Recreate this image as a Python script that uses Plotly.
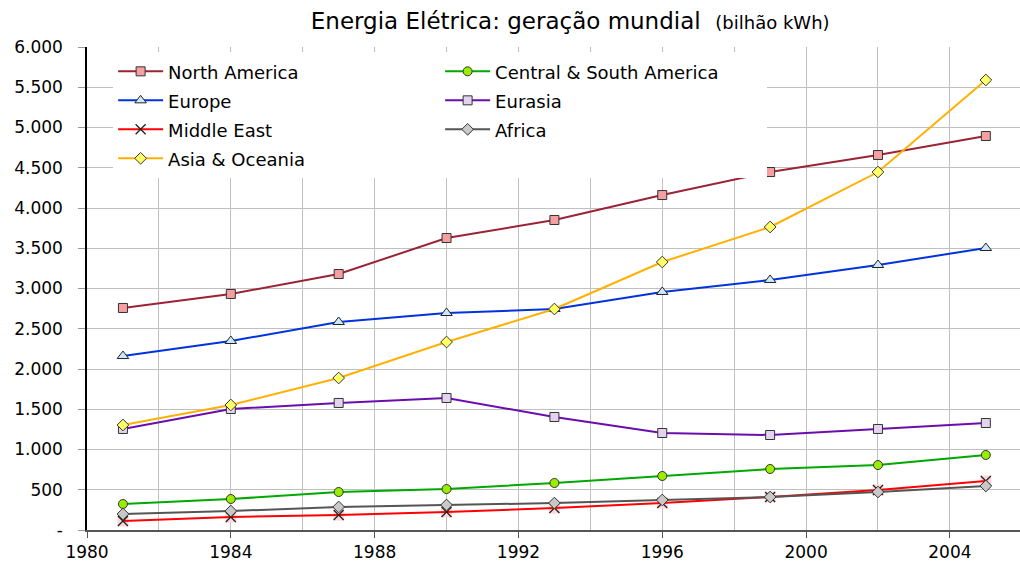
import plotly.graph_objects as go

years = [1981, 1984, 1987, 1990, 1993, 1996, 1999, 2002, 2005]
north_america = [2758, 2932, 3180, 3627, 3851, 4161, 4447, 4658, 4894]
central_south_america = [323, 385, 472, 509, 584, 671, 758, 807, 932]
europe = [2161, 2348, 2584, 2696, 2745, 2957, 3106, 3292, 3503]
eurasia = [1255, 1503, 1578, 1640, 1404, 1205, 1180, 1255, 1329]
middle_east = [112, 161, 186, 224, 273, 335, 410, 497, 609]
africa = [199, 236, 286, 311, 335, 373, 410, 472, 547]
asia_oceania = [1304, 1553, 1888, 2335, 2745, 3329, 3764, 4447, 5590]

y_tickvals = [0, 500, 1000, 1500, 2000, 2500, 3000, 3500, 4000, 4500, 5000, 5500, 6000]
y_ticktext = ["-", "500", "1.000", "1.500", "2.000", "2.500", "3.000", "3.500",
              "4.000", "4.500", "5.000", "5.500", "6.000"]

FONT = "DejaVu Sans, Verdana, sans-serif"

series = [
    ("North America", north_america, "#9B2335", "square", "#F4A0A0", "#333333"),
    ("Central & South America", central_south_america, "#00A800", "circle", "#99EE00", "#333333"),
    ("Europe", europe, "#0033DD", "triangle-up", "#CCE8FF", "#222222"),
    ("Eurasia", eurasia, "#6A0DAD", "square", "#E3D3EE", "#333333"),
    ("Middle East", middle_east, "#FF0000", "x-thin", "#FFFFFF", "#222222"),
    ("Africa", africa, "#555555", "diamond", "#C8C8C8", "#333333"),
    ("Asia & Oceania", asia_oceania, "#FFB000", "diamond", "#FFFF66", "#333333"),
]

fig = go.Figure()
for name, vals, lc, sym, fill, edge in series:
    label = "<span style='font-size:18px'>" + name.replace("&", "&amp;") + "</span>"
    if name == "Middle East":
        fig.add_trace(go.Scatter(x=years, y=vals, mode="markers", showlegend=False,
                                 hoverinfo="skip",
                                 marker=dict(symbol="square", size=11, color="#FFD6D6",
                                             line=dict(width=0))))
        fig.add_trace(go.Scatter(x=years, y=vals, mode="lines+markers", name=label,
                                 line=dict(color=lc, width=2),
                                 marker=dict(symbol=sym, size=10, color=edge,
                                             line=dict(color=edge, width=1.3))))
    else:
        msize = 10 if sym == "triangle-up" else 9
        fig.add_trace(go.Scatter(x=years, y=vals, mode="lines+markers", name=label,
                                 line=dict(color=lc, width=2),
                                 marker=dict(symbol=sym, size=msize, color=fill,
                                             line=dict(color=edge, width=1))))

fig.update_layout(
    width=1020, height=565,
    margin=dict(l=87, r=0, t=47, b=35),
    paper_bgcolor="white", plot_bgcolor="white",
    font=dict(family=FONT, size=17, color="black"),
    title=dict(
        text="Energia Elétrica: geração mundial  <span style='font-size:18px'>(bilhão kWh)</span>",
        font=dict(family=FONT, size=23, color="black"),
        x=0.559, xanchor="center", y=0.963, yanchor="middle"),
    showlegend=True,
    legend=dict(orientation="h", x=0.028, xanchor="left", y=0.99, yanchor="top",
                bgcolor="white", borderwidth=0,
                font=dict(family=FONT, size=20, color="black"),
                entrywidth=267, entrywidthmode="pixels",
                itemwidth=45, tracegroupgap=0),
    xaxis=dict(range=[1980, 2005.95], tickmode="linear", tick0=1980, dtick=4,
               showgrid=True, gridcolor="#C0C0C0", gridwidth=1,
               minor=dict(tickmode="linear", tick0=1980, dtick=2, showgrid=True,
                          gridcolor="#C0C0C0", gridwidth=1, ticks=""),
               showline=True, linecolor="#555555", linewidth=2,
               ticks="outside", ticklen=6, tickcolor="#555555",
               tickfont=dict(family=FONT, size=17), zeroline=False),
    yaxis=dict(range=[0, 6000], tickmode="array", tickvals=y_tickvals, ticktext=y_ticktext,
               showgrid=True, gridcolor="#C0C0C0", gridwidth=1,
               showline=True, linecolor="black", linewidth=1.5,
               ticks="outside", ticklen=7, tickcolor="#999999",
               ticklabelstandoff=12,
               tickfont=dict(family=FONT, size=17), zeroline=False),
)

fig.write_html("out.html", config={"displayModeBar": False},
               post_script="document.body.style.margin='0';")
